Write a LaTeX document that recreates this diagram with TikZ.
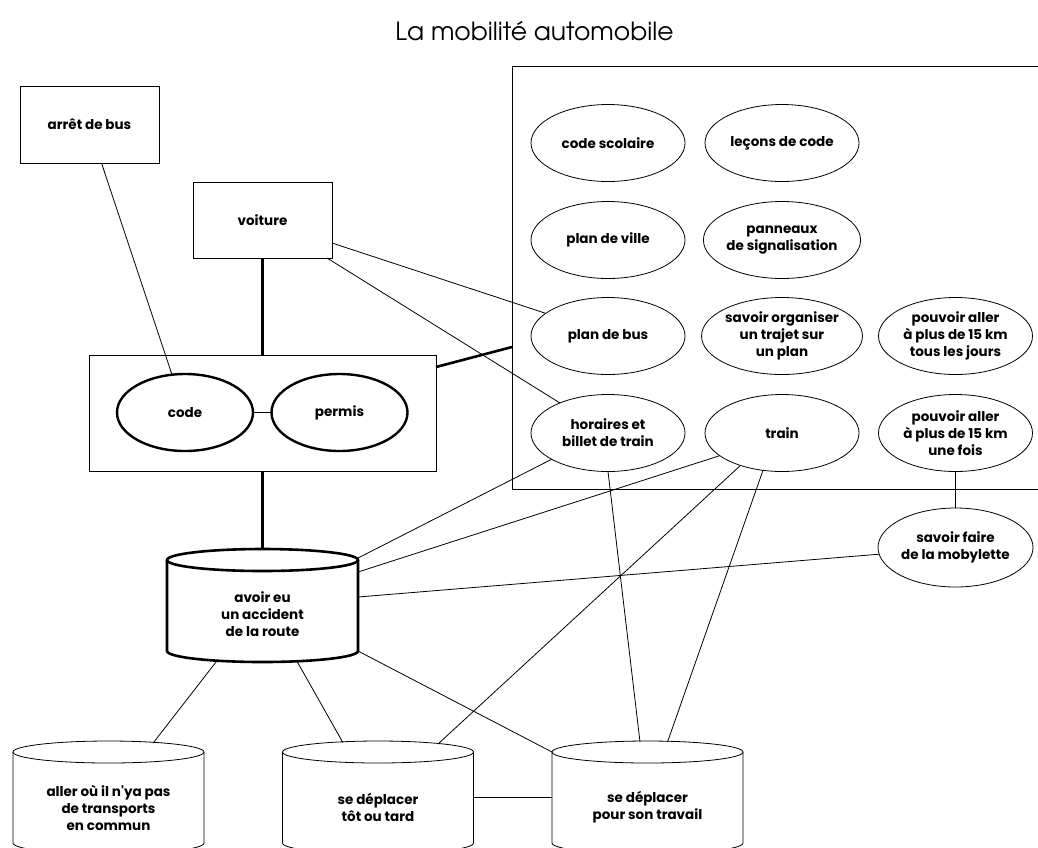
\documentclass[tikz,border=0pt]{standalone}
\usepackage{fontspec}
\setmainfont{texgyreadventor}[Extension=.otf, UprightFont=*-regular]
\newfontfamily\lblfont{Poppins}
\usetikzlibrary{shapes.geometric}
\newcommand\drawcyl[3]{%
  \draw[#3] (#1.north) ellipse [x radius=#2pt, y radius=11pt];
  \draw[#3] (#1.north west) -- (#1.south west) arc[start angle=180, end angle=360, x radius=#2pt, y radius=11pt] -- (#1.north east);
}
\begin{document}
\begin{tikzpicture}[x=1pt,y=-1pt,
  every node/.style={inner sep=0pt, outer sep=0pt},
  lbl/.style={font=\lblfont\bfseries\fontsize{13.5}{17}\selectfont, align=center},
  box/.style={lbl, draw, rectangle, line width=0.8pt},
  oval/.style={lbl, draw, ellipse, line width=0.8pt, minimum width=154pt, minimum height=77pt},
  bigoval/.style={lbl, draw, ellipse, line width=2.4pt, minimum width=136pt, minimum height=77pt},
  cylbody/.style={rectangle, minimum width=191pt},
  thin/.style={line width=0.8pt},
  thick/.style={line width=2.6pt}]
\useasboundingbox (0,0) rectangle (1038,847);
\node[font=\fontsize{25}{30}\selectfont] (title) at (534.5,31) {La mobilité automobile};

% big frame
\node[draw, thin, rectangle, minimum width=540pt, minimum height=423pt] (zone) at (782,277.5) {};

\node[box, minimum width=139pt, minimum height=77pt] (arret) at (89.5,124.5) {arrêt de bus};
\node[box, minimum width=139pt, minimum height=76pt] (voiture) at (262.5,220) {voiture};
\node[box, minimum width=347pt, minimum height=116pt] (grp) at (262.5,413) {};
\node[bigoval] (code) at (185,412.5) {code};
\node[bigoval] (permis) at (339.5,412.5) {permis};

\node[oval] (cs) at (608,143) {code scolaire};
\node[oval] (lc) at (782,143) {leçons de code};
\node[oval] (pv) at (608,240) {plan de ville};
\node[oval] (pan) at (782,240) {panneaux\\de signalisation};
\node[oval] (pb) at (608,336) {plan de bus};
\node[oval] (org) at (782,336) {savoir organiser\\un trajet sur\\un plan};
\node[oval] (pj) at (955.5,336) {pouvoir aller\\à plus de 15 km\\tous les jours};
\node[oval] (hor) at (608,433) {horaires et\\billet de train};
\node[oval] (train) at (782,433) {train};
\node[oval] (pf) at (955.5,433) {pouvoir aller\\à plus de 15 km\\une fois};
\node[oval, minimum width=155pt, minimum height=79pt] (mob) at (955.5,547.5) {savoir faire\\de la mobylette};

% cylinders
\node[cylbody, minimum height=91pt] (acc) at (262.5,605.5) {};
\drawcyl{acc}{95.5}{thick}
\node[lbl] (acc-t) at ([yshift=-9pt]acc.center) {avoir eu\\un accident\\de la route};
\node[cylbody, minimum height=91pt] (aller) at (108.5,797.5) {};
\drawcyl{aller}{95.5}{thin}
\node[lbl] (aller-t) at ([yshift=-10pt]aller.center) {aller où il n'ya pas\\de transports\\en commun};
\node[cylbody, minimum height=91pt] (tot) at (378,797.5) {};
\drawcyl{tot}{95.5}{thin}
\node[lbl] (tot-t) at ([yshift=-10pt]tot.center) {se déplacer\\tôt ou tard};
\node[cylbody, minimum height=91pt] (trav) at (647.5,797.5) {};
\drawcyl{trav}{95.5}{thin}
\node[lbl] (trav-t) at ([yshift=-10pt]trav.center) {se déplacer\\pour son travail};

% connectors
\draw[thin] ([xshift=12pt]arret.south) -- (code.109);
\draw[thick] (voiture.south) -- (grp.north);
\draw[thin] ([yshift=-23pt]voiture.east) -- (pb.160);
\draw[thin] ([xshift=-5pt]voiture.south east) -- (hor.148);
\draw[thick] ([yshift=-12pt]grp.north east) -- ([yshift=-69.5pt]zone.west);
\draw[thick] (grp.south) -- ([yshift=11pt]acc.north);
\draw[thin] (code.east) -- (permis.west);
\draw[thin] (hor.205) -- ([yshift=2pt]acc.north east);
\draw[thin] (hor.south) -- ([xshift=-7.5pt,yshift=10pt]trav.north);
\draw[thin] (train.200) -- ([yshift=-12pt]acc.north east);
\draw[thin] (train.218) -- ([xshift=60pt,yshift=8pt]tot.north);
\draw[thin] (train.243) -- ([xshift=20pt,yshift=10pt]trav.north);
\draw[thin] (mob.185) -- ([yshift=-37pt]acc.north east);
\draw[thin] (pf.south) -- (mob.north);
\draw[thin] (acc.south east) -- (trav.north west);
\draw[thin] ([xshift=-45.5pt,yshift=-9.7pt]acc.south) -- ([xshift=44.5pt,yshift=8.8pt]aller.north);
\draw[thin] ([xshift=34.5pt,yshift=-10.3pt]acc.south) -- ([xshift=-35pt,yshift=9.3pt]tot.north);
\draw[thin] (tot.east) -- (trav.west);
\end{tikzpicture}
\end{document}
